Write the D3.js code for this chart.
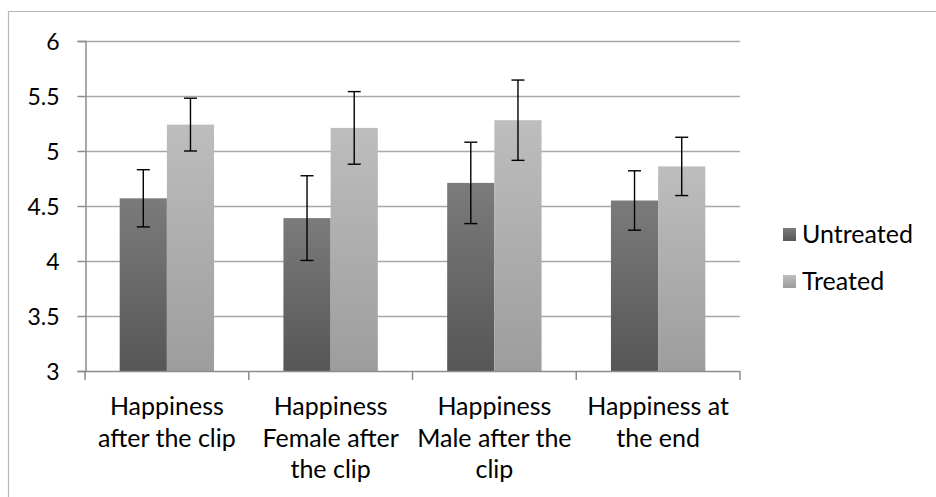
<!DOCTYPE html>
<html><head><meta charset="utf-8">
<script src="https://cdn.jsdelivr.net/npm/d3@7"></script>
<style>
body{margin:0;background:#fff;}
text{font-family:Lato,"Open Sans",sans-serif;fill:#000;}
</style></head><body>
<svg id="c" width="936" height="497"></svg>
<script>
const categories = ["Happiness after the clip","Happiness Female after the clip","Happiness Male after the clip","Happiness at the end"];
const categoryLines = [["Happiness","after the clip"],["Happiness","Female after","the clip"],["Happiness","Male after the","clip"],["Happiness at","the end"]];
const seriesNames = ["Untreated","Treated"];
const untreated = [4.57, 4.39, 4.71, 4.55];
const treated = [5.24, 5.21, 5.28, 4.86];
const untreatedErr = [0.26, 0.385, 0.37, 0.27];
const treatedErr = [0.24, 0.33, 0.365, 0.265];
const yTicks = [3, 3.5, 4, 4.5, 5, 5.5, 6];

const svg = d3.select("#c");
const m = {left:85, right:740, top:41, bottom:371};

// outer frame
svg.append("path").attr("d","M8.5,497 V11.5 H936").attr("fill","none").attr("stroke","#b8b8b8").attr("stroke-width",1.2);

const defs = svg.append("defs");
const gradStops = [["#7b7b7b","#565656"],["#bdbdbd","#9d9d9d"]];
gradStops.forEach((s,i)=>{
  const g = defs.append("linearGradient").attr("id","g"+i).attr("x1",0).attr("y1",0).attr("x2",0).attr("y2",1);
  g.append("stop").attr("offset","0%").attr("stop-color",s[0]);
  g.append("stop").attr("offset","100%").attr("stop-color",s[1]);
});

const y = d3.scaleLinear().domain([3,6]).range([m.bottom,m.top]);
const x0 = d3.scaleBand().domain(categories).range([m.left,m.right]).padding(0);
const x1 = d3.scaleBand().domain(seriesNames).range([0,x0.bandwidth()]).paddingInner(0).paddingOuter(0.735);

// gridlines
svg.append("g").selectAll("line").data(yTicks.slice(1)).join("line")
  .attr("x1",m.left).attr("x2",m.right).attr("y1",d=>Math.round(y(d))+0.5).attr("y2",d=>Math.round(y(d))+0.5)
  .attr("stroke","#a8a8a8").attr("stroke-width",1.5);

// y axis
const yAxis = svg.append("g").attr("transform",`translate(${m.left+0.5},0)`)
  .call(d3.axisLeft(y).tickValues(yTicks).tickSize(8).tickPadding(18).tickFormat(d3.format("")));
yAxis.select(".domain").attr("stroke","#8c8c8c").attr("stroke-width",1.5);
yAxis.selectAll(".tick line").attr("stroke","#8c8c8c").attr("stroke-width",1.5);
yAxis.selectAll(".tick text").style("font-size","23px").attr("fill","#000").attr("dy","0.35em");

// bars
const series = [untreated, treated];
const errs = [untreatedErr, treatedErr];
const gBars = svg.append("g");
series.forEach((vals,si)=>{
  gBars.selectAll(".b"+si).data(vals).join("rect")
    .attr("x",(d,i)=>x0(categories[i])+x1(seriesNames[si]))
    .attr("width",x1.bandwidth())
    .attr("y",d=>y(d)).attr("height",d=>y(3)-y(d))
    .attr("fill",`url(#g${si})`);
});

// x axis
const xAxisG = svg.append("g");
xAxisG.append("line").attr("x1",m.left).attr("x2",m.right).attr("y1",m.bottom+0.5).attr("y2",m.bottom+0.5).attr("stroke","#8c8c8c").attr("stroke-width",1.5);
const bounds = categories.map(c=>x0(c)).concat([m.right]);
xAxisG.selectAll(".xt").data(bounds).join("line")
  .attr("x1",d=>d).attr("x2",d=>d).attr("y1",m.bottom).attr("y2",m.bottom+9).attr("stroke","#8c8c8c").attr("stroke-width",1.5);
categories.forEach((c,i)=>{
  const t = xAxisG.append("text").attr("text-anchor","middle").style("font-size","25px");
  categoryLines[i].forEach((ln,j)=>{
    t.append("tspan").attr("x",x0(c)+x0.bandwidth()/2).attr("y",415+j*31.5).text(ln);
  });
});

// error bars
const gErr = svg.append("g").attr("stroke","#000").attr("stroke-width",1.4);
series.forEach((vals,si)=>{
  vals.forEach((v,i)=>{
    const cx = x0(categories[i])+x1(seriesNames[si])+x1.bandwidth()/2;
    const hi = y(v+errs[si][i]), lo = y(v-errs[si][i]);
    gErr.append("line").attr("x1",cx).attr("x2",cx).attr("y1",hi).attr("y2",lo);
    gErr.append("line").attr("x1",cx-6.5).attr("x2",cx+6.5).attr("y1",hi).attr("y2",hi);
    gErr.append("line").attr("x1",cx-6.5).attr("x2",cx+6.5).attr("y1",lo).attr("y2",lo);
  });
});

// legend
const leg = svg.append("g");
seriesNames.forEach((s,i)=>{
  const cy = 234 + i*47;
  leg.append("rect").attr("x",783).attr("y",cy-6).attr("width",13).attr("height",13).attr("fill",`url(#g${i})`);
  leg.append("text").attr("x",802).attr("y",cy).attr("dy","0.35em").style("font-size","25px").text(s);
});
</script></body></html>
